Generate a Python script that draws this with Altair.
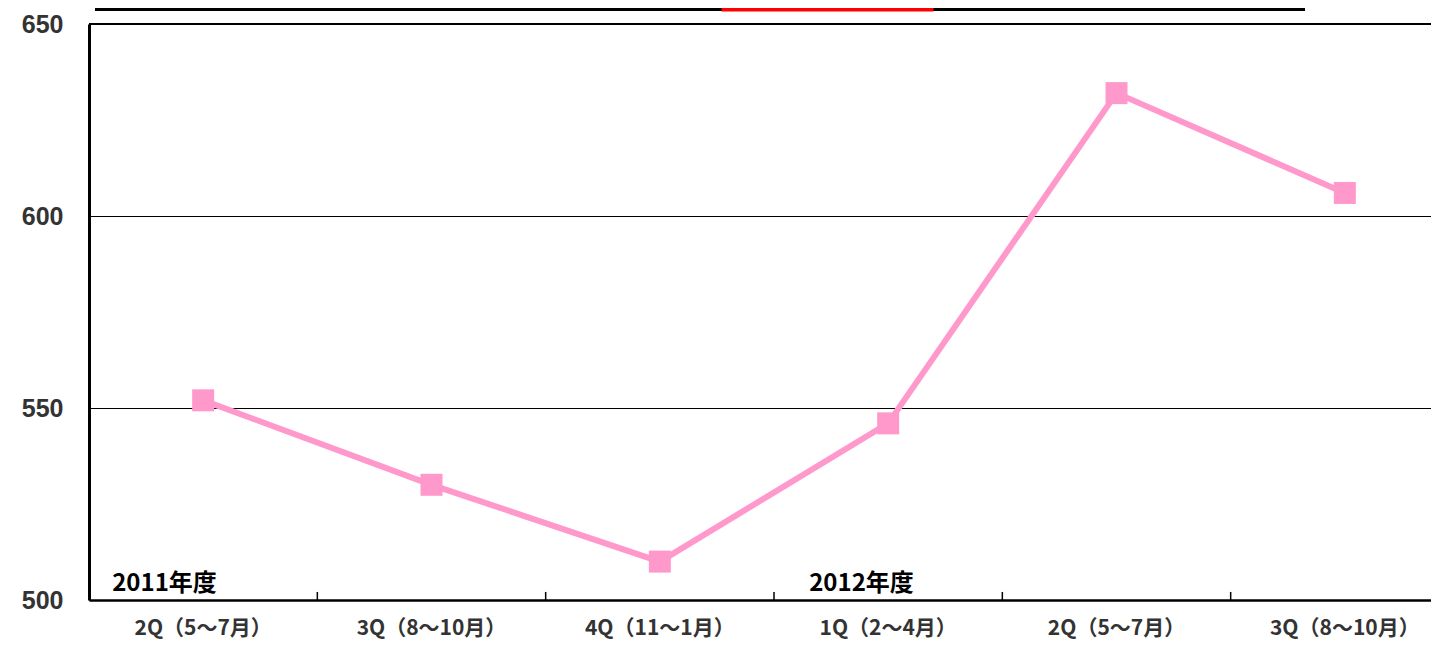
import altair as alt
import pandas as pd

# ---- data ----
quarter_labels = ["2Q（5～7月）", "3Q（8～10月）", "4Q（11～1月）", "1Q（2～4月）", "2Q（5～7月）", "3Q（8～10月）"]
quarter_index = [0, 1, 2, 3, 4, 5]
values = [552, 530, 510, 546, 632, 606]
boundary_index = [1, 2, 3, 4, 5]
year_labels = ["2011年度", "2012年度"]
year_at = [0, 3]

df = pd.DataFrame({"q": quarter_index, "v": values})
ticks_df = pd.DataFrame({"q": boundary_index, "y0": [500] * 5, "y1": [502.1] * 5})
year_df = pd.DataFrame({"q": year_at, "t": year_labels, "v": [500, 500]})

PINK = "#FF99CC"
label_array = "[" + ",".join("'" + s + "'" for s in quarter_labels) + "]"

xscale = alt.Scale(domain=quarter_index, range=[0, 1370], paddingInner=0, paddingOuter=0)
yscale = alt.Scale(domain=[500, 650], nice=False, zero=False)

x_axis = alt.Axis(
    title=None, ticks=False, domain=True, domainColor="black", domainWidth=2.5,
    labelExpr=label_array + "[datum.value]", labelAngle=0, labelAlign="center",
    labelBaseline="middle", labelPadding=28, labelFlush=False, labelOverlap=False,
    labelFont="Noto Sans CJK JP", labelFontSize=21, labelFontWeight="bold",
    labelColor="#333333", grid=False,
)
y_axis = alt.Axis(
    title=None, values=[500, 550, 600, 650], ticks=False, domain=True,
    domainColor="black", domainWidth=3, labelPadding=26,
    labelFont="Liberation Sans", labelFontSize=25, labelFontWeight="bold",
    labelColor="#333333", grid=True, gridColor="black", gridWidth=1.2,
)

base = alt.Chart(df)

line = base.mark_line(color=PINK, strokeWidth=6).encode(
    x=alt.X("q:O", scale=xscale, axis=x_axis),
    y=alt.Y("v:Q", scale=yscale, axis=y_axis),
)
pts = base.mark_point(shape="square", filled=True, opacity=1, color=PINK, size=484).encode(
    x=alt.X("q:O", scale=xscale),
    y=alt.Y("v:Q", scale=yscale),
)

top_rule = alt.Chart(pd.DataFrame({"v": [650]})).mark_rule(color="black", strokeWidth=2).encode(
    y=alt.Y("v:Q", scale=yscale),
)

tick_marks = alt.Chart(ticks_df).mark_rule(color="black", strokeWidth=1.5).encode(
    x=alt.X("q:O", scale=xscale, bandPosition=0),
    y=alt.Y("y0:Q", scale=yscale),
    y2="y1:Q",
)

yr1 = alt.Chart(year_df.iloc[[0]]).mark_text(
    font="Noto Sans CJK JP", fontSize=24, fontWeight="bold", color="black",
    align="left", baseline="alphabetic", dx=-91, dy=-9,
).encode(x=alt.X("q:O", scale=xscale), y=alt.Y("v:Q", scale=yscale), text="t:N")
yr2 = alt.Chart(year_df.iloc[[1]]).mark_text(
    font="Noto Sans CJK JP", fontSize=24, fontWeight="bold", color="black",
    align="left", baseline="alphabetic", dx=-79, dy=-9,
).encode(x=alt.X("q:O", scale=xscale), y=alt.Y("v:Q", scale=yscale), text="t:N")

# cropped remnants of the header above the plot
header_line = alt.Chart(pd.DataFrame({"a": [0]})).mark_rule(color="black", strokeWidth=4).encode(
    x=alt.value(6), x2=alt.value(1216), y=alt.value(-15)
)
header_box = alt.Chart(pd.DataFrame({"a": [0]})).mark_rect(
    fill="white", stroke="red", strokeWidth=5
).encode(x=alt.value(635), x2=alt.value(842), y=alt.value(-40), y2=alt.value(-15))

chart = alt.layer(top_rule, tick_marks, line, pts, yr1, yr2, header_line, header_box).properties(
    width=1342, height=576,
    autosize=alt.AutoSizeParams(type="none"),
    padding={"left": 81, "top": 16, "right": 0, "bottom": 39},
    background="white",
).configure_view(strokeWidth=0)

chart.save("out.html", embed_options={"renderer": "svg", "actions": False})
